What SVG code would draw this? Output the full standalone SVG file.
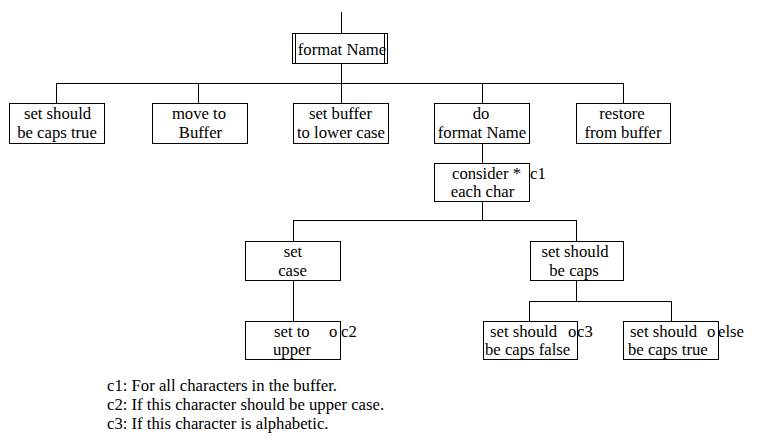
<svg xmlns="http://www.w3.org/2000/svg" width="757" height="448" viewBox="0 0 757 448">
<style>
.b{fill:#fff;stroke:#000;stroke-width:1}
.l{fill:none;stroke:#000;stroke-width:1}
text{font-size:16.7px;fill:#000}
.m{text-anchor:middle}
</style>
<rect width="757" height="448" fill="#fff"/>
<g id="connectors">
<path class="l" d="M341.5 12V33M341.5 63V83M56.5 83.5H623.5M56.5 83V103M198.5 83V103M341.5 83V103M482.5 83V103M623.5 83V103M482.5 143V163M482.5 202V220M293.5 220.5H576.5M293.5 220V241M576.5 220V241M293.5 280V321M576.5 280V301M529.5 301.5H671.5M529.5 301V321M671.5 301V321"/>
</g>
<g font-family="Liberation Serif, Tinos, Times New Roman, DejaVu Serif, serif">
<g id="formatName">
<rect class="b" x="292.5" y="33.5" width="95" height="30"/>
<path class="l" d="M295.5 33.5V63.5M384.5 33.5V63.5"/>
<text class="m" x="342" y="55">format Name</text>
</g>
<g id="setShouldBeCapsTrue1">
<rect class="b" x="9.5" y="103.5" width="95" height="40"/>
<text class="m" x="57.5" y="119">set should</text>
<text class="m" x="57" y="138">be caps true</text>
</g>
<g id="moveToBuffer">
<rect class="b" x="152.5" y="103.5" width="95" height="40"/>
<text class="m" x="199" y="119">move to</text>
<text class="m" x="200.5" y="138">Buffer</text>
</g>
<g id="setBufferLower">
<rect class="b" x="293.5" y="103.5" width="95" height="40"/>
<text class="m" x="340.5" y="119">set buffer</text>
<text class="m" x="341" y="138">to lower case</text>
</g>
<g id="doFormatName">
<rect class="b" x="434.5" y="103.5" width="95" height="40"/>
<text class="m" x="481" y="119">do</text>
<text class="m" x="482" y="138">format Name</text>
</g>
<g id="restoreFromBuffer">
<rect class="b" x="576.5" y="103.5" width="94" height="40"/>
<text class="m" x="622" y="119">restore</text>
<text class="m" x="623" y="138">from buffer</text>
</g>
<g id="considerEachChar">
<rect class="b" x="434.5" y="163.5" width="95" height="38"/>
<text class="m" x="486.5" y="179">consider *</text>
<text class="m" x="482.5" y="197">each char</text>
<text x="530" y="179">c1</text>
</g>
<g id="setCase">
<rect class="b" x="245.5" y="241.5" width="95" height="39"/>
<text class="m" x="293" y="257">set</text>
<text class="m" x="292.5" y="276">case</text>
</g>
<g id="setShouldBeCaps">
<rect class="b" x="530.5" y="241.5" width="93" height="39"/>
<text class="m" x="575" y="257">set should</text>
<text class="m" x="574" y="276">be caps</text>
</g>
<g id="setToUpper">
<rect class="b" x="245.5" y="321.5" width="95" height="38"/>
<text x="274" y="337">set to</text>
<text x="329" y="337">o</text>
<text x="341" y="337">c2</text>
<text x="273" y="355">upper</text>
</g>
<g id="setShouldBeCapsFalse">
<rect class="b" x="483.5" y="321.5" width="94" height="38"/>
<text x="490" y="337">set should</text>
<text x="568" y="337">o</text>
<text x="577" y="337">c3</text>
<text x="485" y="355">be caps false</text>
</g>
<g id="setShouldBeCapsTrue2">
<rect class="b" x="623.5" y="321.5" width="95" height="38"/>
<text x="630" y="337">set should</text>
<text x="707" y="337">o</text>
<text x="718" y="337">else</text>
<text x="628" y="355">be caps true</text>
</g>
<g id="notes">
<text x="107" y="391">c1: For all characters in the buffer.</text>
<text x="107" y="410">c2: If this character should be upper case.</text>
<text x="107" y="429">c3: If this character is alphabetic.</text>
</g>
</g>
</svg>
